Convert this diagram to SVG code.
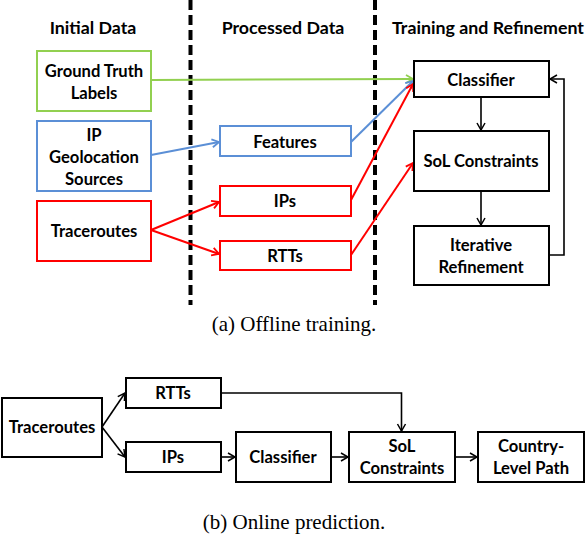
<svg xmlns="http://www.w3.org/2000/svg" width="588" height="536" viewBox="0 0 588 536">
<style>
.t{font-family:Lato,"Liberation Sans",sans-serif;font-weight:bold;fill:#000;text-anchor:middle}
.title{font-size:17.8px}
.n{font-size:16.6px}
.cap{font-family:"Liberation Serif","Times New Roman",serif;font-size:21px;fill:#000;text-anchor:middle}
.box{fill:#fff;stroke-width:2}
.k{stroke:#000}.g{stroke:#92D050}.b{stroke:#5B8FD6}.r{stroke:#FF0000}
.ln{fill:none;stroke-width:2}
.lk{fill:none;stroke:#000;stroke-width:1.6}
.dash{stroke:#000;stroke-width:4;stroke-dasharray:10 5}
</style>
<defs>
<marker id="ak" markerUnits="userSpaceOnUse" markerWidth="12" markerHeight="12" refX="8" refY="5" orient="auto"><path d="M1,1 L8,5 L1,9" fill="none" stroke="#000" stroke-width="1.5"/></marker>
<marker id="ag" markerUnits="userSpaceOnUse" markerWidth="12" markerHeight="12" refX="8" refY="5" orient="auto"><path d="M1,1 L8,5 L1,9" fill="none" stroke="#92D050" stroke-width="1.8"/></marker>
<marker id="ab" markerUnits="userSpaceOnUse" markerWidth="12" markerHeight="12" refX="8" refY="5" orient="auto"><path d="M1,1 L8,5 L1,9" fill="none" stroke="#5B8FD6" stroke-width="1.8"/></marker>
<marker id="ar" markerUnits="userSpaceOnUse" markerWidth="12" markerHeight="12" refX="8" refY="5" orient="auto"><path d="M1,1 L8,5 L1,9" fill="none" stroke="#FF0000" stroke-width="1.8"/></marker>
</defs>
<rect width="588" height="536" fill="#fff"/>

<g id="separators">
<line class="dash" x1="190.5" y1="0" x2="190.5" y2="305"/>
<line class="dash" x1="375" y1="0" x2="375" y2="305"/>
</g>

<g id="titles">
<text class="t title" x="93" y="34">Initial Data</text>
<text class="t title" x="283" y="34">Processed Data</text>
<text class="t title" x="488" y="34">Training and Refinement</text>
</g>

<g id="connectors">
<line class="ln g" x1="151" y1="80" x2="413" y2="79" marker-end="url(#ag)"/>
<line class="ln b" x1="151" y1="155" x2="219" y2="142" marker-end="url(#ab)"/>
<line class="ln b" x1="351" y1="142" x2="413" y2="81" marker-end="url(#ab)"/>
<line class="ln r" x1="151" y1="230" x2="219" y2="202" marker-end="url(#ar)"/>
<line class="ln r" x1="151" y1="230" x2="219" y2="254" marker-end="url(#ar)"/>
<line class="ln r" x1="351" y1="200" x2="413" y2="84" marker-end="url(#ar)"/>
<line class="ln r" x1="351" y1="255" x2="413" y2="163" marker-end="url(#ar)"/>
<line class="lk" x1="481" y1="97" x2="481" y2="130" marker-end="url(#ak)"/>
<line class="lk" x1="481" y1="191" x2="481" y2="225" marker-end="url(#ak)"/>
<polyline class="lk" points="549,255 564,255 564,79 550,79" marker-end="url(#ak)"/>

<polyline class="lk" points="102,427 125,393" marker-end="url(#ak)"/>
<polyline class="lk" points="102,427 125,457" marker-end="url(#ak)"/>
<polyline class="lk" points="221,393 401.5,393 401.5,431" marker-end="url(#ak)"/>
<line class="lk" x1="221" y1="457" x2="235" y2="457" marker-end="url(#ak)"/>
<line class="lk" x1="331" y1="457" x2="348" y2="457" marker-end="url(#ak)"/>
<line class="lk" x1="455" y1="457" x2="477" y2="457" marker-end="url(#ak)"/>
</g>

<g id="ground-truth">
<rect class="box g" x="37" y="51" width="114" height="60"/>
<text class="t n" x="94" y="77">Ground Truth</text>
<text class="t n" x="94" y="99">Labels</text>
</g>
<g id="ip-geolocation">
<rect class="box b" x="37" y="121" width="114" height="70"/>
<text class="t n" x="94" y="141">IP</text>
<text class="t n" x="94" y="163">Geolocation</text>
<text class="t n" x="94" y="185">Sources</text>
</g>
<g id="traceroutes-a">
<rect class="box r" x="37" y="201" width="114" height="60"/>
<text class="t n" x="94" y="237">Traceroutes</text>
</g>
<g id="features">
<rect class="box b" x="220" y="126" width="131" height="30"/>
<text class="t n" x="285" y="148">Features</text>
</g>
<g id="ips-a">
<rect class="box r" x="220" y="186" width="131" height="30"/>
<text class="t n" x="285" y="207">IPs</text>
</g>
<g id="rtts-a">
<rect class="box r" x="220" y="241" width="131" height="29"/>
<text class="t n" x="285" y="262">RTTs</text>
</g>
<g id="classifier-a">
<rect class="box k" x="414" y="61" width="135" height="36"/>
<text class="t n" x="481" y="86">Classifier</text>
</g>
<g id="sol-a">
<rect class="box k" x="414" y="131" width="135" height="60"/>
<text class="t n" x="481" y="167">SoL Constraints</text>
</g>
<g id="iterative">
<rect class="box k" x="414" y="226" width="135" height="59"/>
<text class="t n" x="481" y="251">Iterative</text>
<text class="t n" x="481" y="273">Refinement</text>
</g>

<text class="cap" x="294" y="331">(a) Offline training.</text>

<g id="traceroutes-b">
<rect class="box k" x="2" y="398" width="100" height="59"/>
<text class="t n" x="52" y="433">Traceroutes</text>
</g>
<g id="rtts-b">
<rect class="box k" x="126" y="378" width="95" height="30"/>
<text class="t n" x="173" y="399">RTTs</text>
</g>
<g id="ips-b">
<rect class="box k" x="126" y="442" width="95" height="30"/>
<text class="t n" x="173" y="463">IPs</text>
</g>
<g id="classifier-b">
<rect class="box k" x="236" y="432" width="95" height="50"/>
<text class="t n" x="283" y="463">Classifier</text>
</g>
<g id="sol-b">
<rect class="box k" x="349" y="432" width="106" height="50"/>
<text class="t n" x="402" y="452">SoL</text>
<text class="t n" x="402" y="474">Constraints</text>
</g>
<g id="country">
<rect class="box k" x="478" y="432" width="106" height="50"/>
<text class="t n" x="531" y="452">Country-</text>
<text class="t n" x="531" y="474">Level Path</text>
</g>

<text class="cap" x="294" y="529">(b) Online prediction.</text>
</svg>
